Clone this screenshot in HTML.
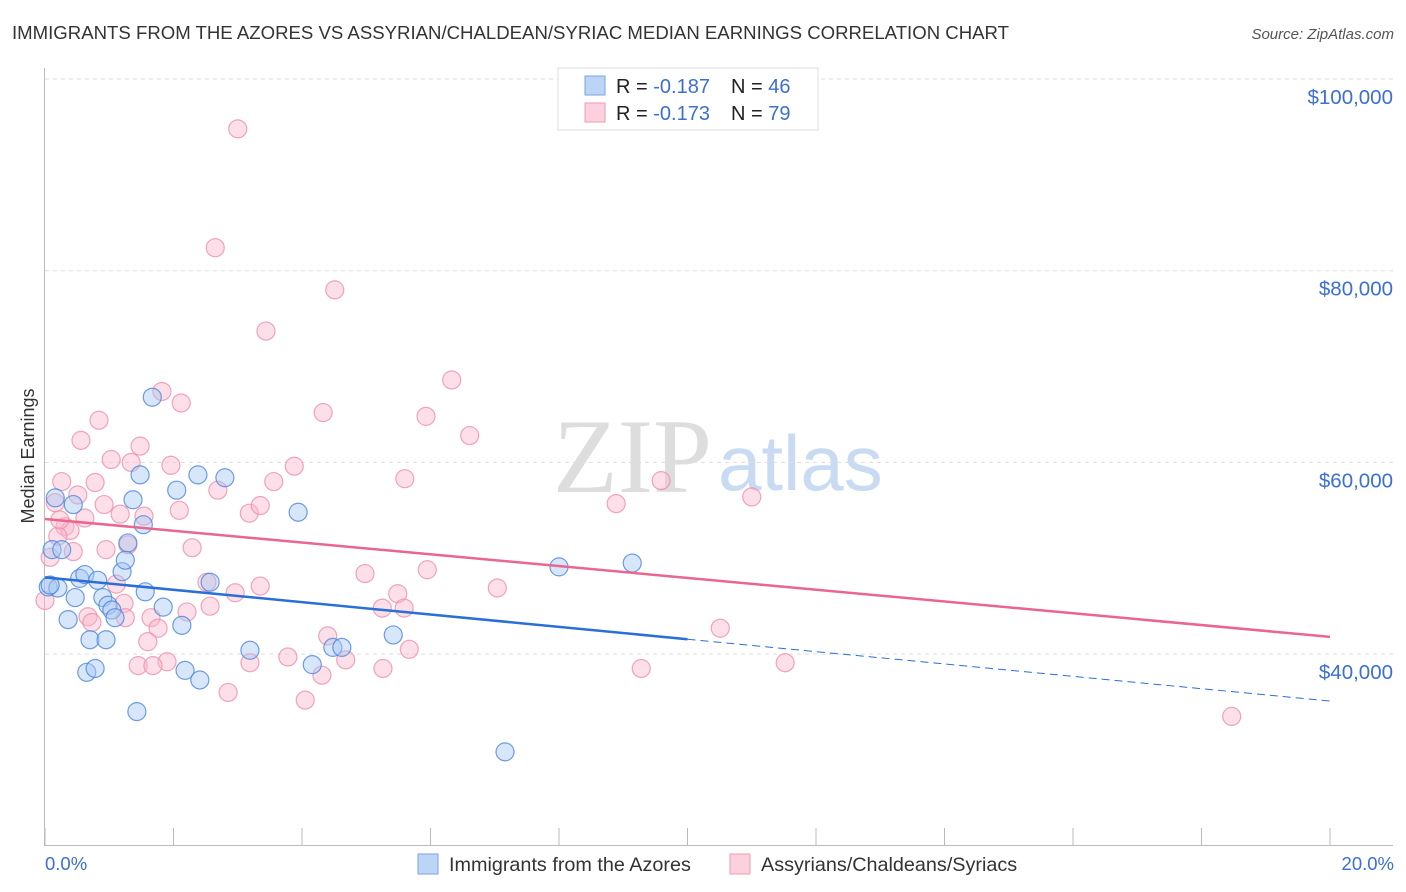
<!DOCTYPE html>
<html><head><meta charset="utf-8"><style>
body{margin:0;background:#fff;font-family:"Liberation Sans",sans-serif}
svg{display:block}
</style></head><body>
<svg id="chart" width="1406" height="892" xmlns="http://www.w3.org/2000/svg">
<text x="12" y="39" font-size="18.6" fill="#333">IMMIGRANTS FROM THE AZORES VS ASSYRIAN/CHALDEAN/SYRIAC MEDIAN EARNINGS CORRELATION CHART</text>
<text x="1394" y="39" font-size="15" fill="#555" font-style="italic" text-anchor="end">Source: ZipAtlas.com</text>
<g>
<text x="712" y="492" font-size="106" fill="#ddd" font-family="Liberation Serif,serif" text-anchor="end">ZIP</text>
<text x="718" y="490" font-size="78" fill="#c9dbf3">atlas</text>
</g>
<g id="grid"></g>
<g id="axes"></g>
<g id="marks"></g>
<text transform="translate(34,456) rotate(-90)" font-size="18" fill="#333" text-anchor="middle">Median Earnings</text>
<text x="45" y="870" font-size="18.5" fill="#3b6fd4">0.0%</text>
<text x="1394" y="870" font-size="18.5" fill="#3b6fd4" text-anchor="end">20.0%</text>
<g>
<rect x="558" y="68" width="260" height="62" fill="#fff" stroke="#ddd"/>
<rect x="585" y="76" width="20" height="19" fill="#bcd4f6" stroke="#7aa3e5"/>
<rect x="585" y="103" width="20" height="19" fill="#fcd0dc" stroke="#f09ab3"/>
<text x="616" y="93" font-size="20" fill="#222">R = <tspan fill="#3b6fd4">-0.187</tspan><tspan x="731">N = </tspan><tspan fill="#3b6fd4">46</tspan></text>
<text x="616" y="120" font-size="20" fill="#222">R = <tspan fill="#3b6fd4">-0.173</tspan><tspan x="731">N = </tspan><tspan fill="#3b6fd4">79</tspan></text>
</g>
<g>
<rect x="418" y="854" width="20" height="20" fill="#bcd4f6" stroke="#7aa3e5"/>
<text x="449" y="871" font-size="19.8" fill="#333">Immigrants from the Azores</text>
<rect x="730" y="854" width="20" height="20" fill="#fcd0dc" stroke="#f09ab3"/>
<text x="761" y="871" font-size="19.8" fill="#333">Assyrians/Chaldeans/Syriacs</text>
</g>
</svg>
<script>
const yTicks=[40000,60000,80000,100000];
const yTickLabels=["$40,000","$60,000","$80,000","$100,000"];
const xTicks=[0,2,4,6,8,10,12,14,16,18,20];
const blueX=[0.16,0.11,0.05,0.20,0.26,0.36,0.44,0.47,0.54,0.62,0.65,0.70,0.78,0.82,0.90,0.95,0.98,1.04,1.09,1.20,1.25,1.29,1.37,1.43,1.48,1.53,1.56,1.67,1.84,2.05,2.13,2.18,2.38,2.41,2.57,2.80,3.19,3.94,4.16,4.48,4.62,5.42,7.16,8.00,9.14,0.08];
const blueY=[56.3,50.9,47.0,46.9,50.9,43.6,55.6,45.9,47.9,48.3,38.1,41.5,38.5,47.7,45.9,41.5,45.1,44.6,43.8,48.6,49.8,51.6,56.1,34.0,58.7,53.5,46.5,66.8,44.9,57.1,43.0,38.3,58.7,37.3,47.5,58.4,40.4,54.8,38.9,40.7,40.7,42.0,29.8,49.1,49.5,47.2];
const pinkX=[3.00,2.65,4.51,3.44,6.33,1.82,2.12,0.84,4.33,5.93,0.56,6.61,1.48,1.03,1.96,1.34,3.88,0.26,0.78,5.60,3.56,0.51,9.59,2.69,11.00,8.89,0.16,0.92,2.09,3.18,3.35,1.17,1.54,0.62,0.31,0.39,0.20,1.29,2.29,0.95,0.44,0.08,4.98,5.95,1.11,3.35,2.52,7.04,5.49,2.96,1.23,5.25,5.59,2.57,0.67,2.21,1.65,1.25,0.73,1.76,1.60,4.40,10.51,5.67,3.78,4.68,1.90,1.45,1.68,3.19,5.26,9.28,11.52,4.31,2.85,4.05,18.47,0.23,0.00];
const pinkY=[94.8,82.4,78.0,73.7,68.6,67.4,66.2,64.4,65.2,64.8,62.3,62.8,61.7,60.3,59.7,60.0,59.6,58.0,57.9,58.3,58.0,56.6,58.1,57.1,56.4,55.7,55.8,55.6,55.0,54.7,55.5,54.6,54.4,54.2,53.3,52.9,52.3,51.4,51.1,50.9,50.7,50.1,48.4,48.8,47.3,47.1,47.5,46.9,46.3,46.4,45.3,44.8,44.8,45.0,43.9,44.4,43.8,43.8,43.3,42.7,41.3,41.9,42.7,40.5,39.7,39.4,39.2,38.8,38.8,39.1,38.5,38.5,39.1,37.8,36.0,35.2,33.5,54.0,45.6];
const blueTrend=[48.0,35.1];
const pinkTrend=[54.1,41.8];
const blueSolidEnd=10;

const NS="http://www.w3.org/2000/svg";
const xs=v=>45+v/20*1285;
const ys=v=>79+(100000-v)/20000*191.7;
function mk(tag,attrs,parent){const e=document.createElementNS(NS,tag);for(const k in attrs)e.setAttribute(k,attrs[k]);parent.appendChild(e);return e;}
const gridG=document.getElementById('grid'),axesG=document.getElementById('axes'),marksG=document.getElementById('marks');
yTicks.forEach((t,i)=>{
 const l=mk('line',{x1:45,x2:1393,y1:ys(t),y2:ys(t),stroke:'#ddd','stroke-dasharray':'4,4'},gridG);
 
 
 const tx=mk('text',{x:1393,y:ys(t)+25,'font-size':20.5,fill:'#3b6fd4','text-anchor':'end'},axesG);
 tx.textContent=yTickLabels[i];
 
 
});
const ya=mk('line',{x1:44.5,x2:44.5,y1:68,y2:845,stroke:'#bbb'},axesG);


const xa=mk('line',{x1:44,x2:1393,y1:845.5,y2:845.5,stroke:'#bbb'},axesG);


xTicks.forEach(t=>{
 const l=mk('line',{x1:xs(t),x2:xs(t),y1:828,y2:845,stroke:'#bbb'},axesG);
 
 
});
function pts(X,Y,fill,stroke,name){
 X.forEach((x,i)=>{
  const c=mk('circle',{cx:xs(x),cy:ys(Y[i]*1000),r:9,fill:fill,'fill-opacity':0.45,stroke:stroke,'stroke-opacity':0.8,'stroke-width':1.2},marksG);
  
  
 });
}
pts(pinkX,pinkY,'#f9b8cb','#ee8fab','point-assyrian');
pts(blueX,blueY,'#a9c8f2','#4a86dc','point-azores');
const pt=v=>pinkTrend[0]+(pinkTrend[1]-pinkTrend[0])*v/20;
const bt=v=>blueTrend[0]+(blueTrend[1]-blueTrend[0])*v/20;
const pl=mk('line',{x1:xs(0),y1:ys(pt(0)*1000),x2:xs(20),y2:ys(pt(20)*1000),stroke:'#e8668f','stroke-width':2.5},marksG);


const bl=mk('line',{x1:xs(0),y1:ys(bt(0)*1000),x2:xs(blueSolidEnd),y2:ys(bt(blueSolidEnd)*1000),stroke:'#2a6fd6','stroke-width':2.5},marksG);


const bd=mk('line',{x1:xs(blueSolidEnd),y1:ys(bt(blueSolidEnd)*1000),x2:xs(20),y2:ys(bt(20)*1000),stroke:'#2a6fd6','stroke-width':1,'stroke-dasharray':'8,5'},marksG);


</script>
</body></html>
